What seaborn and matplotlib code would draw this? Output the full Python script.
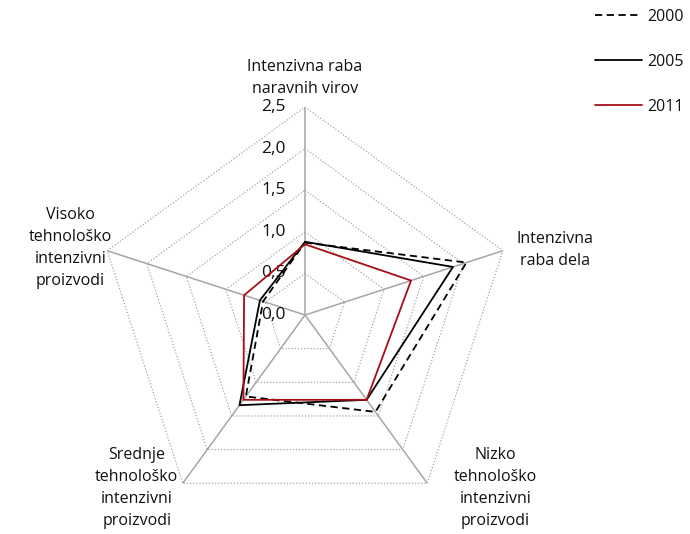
import numpy as np
import pandas as pd
import matplotlib
matplotlib.use("Agg")
import matplotlib.pyplot as plt
import seaborn as sns

# Podatki
kategorije = ["Intenzivna raba\nnaravnih virov",
              "Intenzivna\nraba dela",
              "Nizko\ntehnološko\nintenzivni\nproizvodi",
              "Srednje\ntehnološko\nintenzivni\nproizvodi",
              "Visoko\ntehnološko\nintenzivni\nproizvodi"]
leta = ["2000", "2005", "2011"]
v2000 = [0.87, 2.04, 1.44, 1.21, 0.53]
v2005 = [0.88, 1.87, 1.26, 1.34, 0.57]
v2011 = [0.85, 1.34, 1.26, 1.26, 0.77]
ticks = [0.0, 0.5, 1.0, 1.5, 2.0, 2.5]
tick_labels = ["0,0", "0,5", "1,0", "1,5", "2,0", "2,5"]

sns.set_style("white")
plt.rcParams['font.family'] = ['Open Sans', 'DejaVu Sans']
plt.rcParams['font.size'] = 11.5

n = len(kategorije)
kot = np.linspace(0, 2 * np.pi, n, endpoint=False)
kot_z = np.append(kot, kot[0] + 2 * np.pi)

fig = plt.figure(figsize=(6.9, 5.34), dpi=100)
ax = fig.add_axes([0.1406, 0.0206, 0.6029, 0.779], projection='polar')
ax.set_theta_zero_location('N')
ax.set_theta_direction(-1)
ax.set_ylim(0, 2.5)
ax.grid(False)
ax.set_xticks([])
ax.set_yticks([])
ax.spines['polar'].set_visible(False)
ax.patch.set_alpha(0)

# mreza - petkotniki in zarki
for t in ticks[1:]:
    ax.plot(kot_z, [t] * (n + 1), color='#a6a6a6', lw=0.9, ls=(0, (1, 1.5)),
            zorder=1)
for a in kot:
    ax.plot([a, a], [0, 2.5], color='#a6a6a6', lw=1.1, zorder=1)

for t, lab in zip(ticks, tick_labels):
    ax.annotate(lab, xy=(0, t), xytext=(-19, 0), textcoords='offset pixels',
                ha='right', va='center', fontsize=12.5, color='#111111')

# serije
stili = {"2000": ('black', (0, (4, 2.5))),
         "2005": ('black', '-'),
         "2011": ('#a50f15', '-')}
for leto, vals in zip(leta, [v2000, v2005, v2011]):
    barva, ls = stili[leto]
    df = pd.DataFrame({'kot': kot_z, 'vrednost': vals + [vals[0]]})
    sns.lineplot(data=df, x='kot', y='vrednost', ax=ax, sort=False,
                 color=barva, linestyle=ls, lw=1.3, label=leto, zorder=3)
ax.set_xlabel('')
ax.set_ylabel('')

# oznake osi
zamiki = [(0, 29), (52, 1), (68, -5), (-46, -5), (-37, 3)]
for a, lab, off in zip(kot, kategorije, zamiki):
    ax.annotate(lab, xy=(a, 2.5), xytext=off, textcoords='offset pixels',
                ha='center', va='center', linespacing=1.5, color='#111111')

leg = ax.legend(loc='center left', bbox_to_anchor=(0.842, 0.884),
                bbox_transform=fig.transFigure, frameon=False,
                handlelength=2.95, handletextpad=0.3, labelspacing=1.81,
                fontsize=11.5)
for txt in leg.get_texts():
    txt.set_color('#111111')

fig.savefig('out.png', dpi=100)
